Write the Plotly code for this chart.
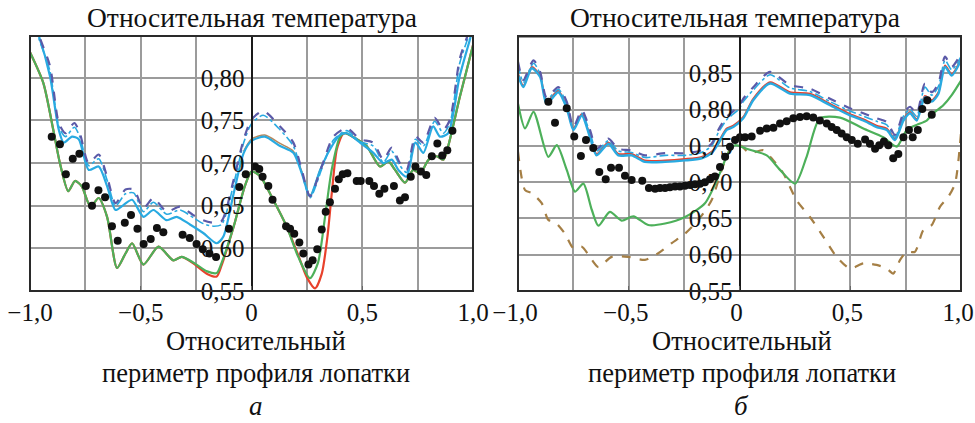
import plotly.graph_objects as go

W, H = 975, 423
FONT = "Liberation Serif"

# ---------------- Panel a data ----------------
a_green_x = [-1.0, -0.94, -0.895, -0.865, -0.827, -0.797, -0.767, -0.727, -0.69, -0.652, -0.607, -0.569, -0.539,
             -0.488, -0.42, -0.353, -0.315, -0.26, -0.2, -0.157, -0.135, -0.08, -0.03, 0.0, 0.038, 0.098, 0.158,
             0.211, 0.264, 0.30, 0.332, 0.362, 0.40, 0.422, 0.475, 0.52, 0.58, 0.618, 0.648, 0.693, 0.73, 0.761,
             0.80, 0.836, 0.866, 0.888, 0.941, 1.0]
a_green_y = [0.830, 0.794, 0.739, 0.700, 0.667, 0.679, 0.673, 0.649, 0.659, 0.637, 0.577, 0.594, 0.606,
             0.581, 0.602, 0.586, 0.590, 0.583, 0.573, 0.571, 0.583, 0.626, 0.673, 0.690, 0.685, 0.657, 0.626,
             0.590, 0.565, 0.583, 0.637, 0.692, 0.731, 0.735, 0.728, 0.720, 0.696, 0.702, 0.692, 0.677, 0.692, 0.688,
             0.704, 0.708, 0.704, 0.720, 0.778, 0.838]

a_red_x = [-1.0, -0.94, -0.895, -0.865, -0.827, -0.797, -0.767, -0.727, -0.69, -0.652, -0.607, -0.569, -0.539,
           -0.488, -0.42, -0.353, -0.315, -0.26, -0.2, -0.157, -0.135, -0.08, -0.03, 0.0, 0.038, 0.098, 0.158,
           0.211, 0.25, 0.287, 0.317, 0.343, 0.364, 0.385, 0.41, 0.422, 0.475, 0.52, 0.58, 0.618, 0.648, 0.693,
           0.73, 0.761, 0.80, 0.836, 0.866, 0.888, 0.941, 1.0]
a_red_y = [0.830, 0.794, 0.739, 0.700, 0.667, 0.679, 0.673, 0.649, 0.659, 0.637, 0.577, 0.594, 0.606,
           0.581, 0.602, 0.586, 0.590, 0.582, 0.570, 0.567, 0.580, 0.626, 0.673, 0.690, 0.685, 0.657, 0.626,
           0.592, 0.566, 0.553, 0.570, 0.614, 0.669, 0.716, 0.733, 0.735, 0.728, 0.720, 0.696, 0.702, 0.692,
           0.677, 0.692, 0.688, 0.704, 0.708, 0.704, 0.720, 0.778, 0.838]

a_cyan_x = [-1.0, -0.96, -0.91, -0.87, -0.848, -0.81, -0.78, -0.735, -0.69, -0.652, -0.614, -0.577, -0.539,
            -0.488, -0.443, -0.383, -0.338, -0.278, -0.218, -0.157, -0.127, -0.08, -0.035, 0.0, 0.06, 0.129,
            0.189, 0.227, 0.264, 0.31, 0.354, 0.40, 0.43, 0.49, 0.55, 0.595, 0.633, 0.663, 0.70, 0.74, 0.776,
            0.82, 0.851, 0.888, 0.94, 0.986, 1.0]
a_cyan_y = [0.875, 0.849, 0.802, 0.739, 0.724, 0.731, 0.728, 0.692, 0.696, 0.673, 0.645, 0.651, 0.657,
            0.637, 0.645, 0.633, 0.637, 0.628, 0.618, 0.606, 0.614, 0.665, 0.712, 0.726, 0.731, 0.720,
            0.712, 0.688, 0.661, 0.692, 0.716, 0.733, 0.735, 0.724, 0.712, 0.700, 0.704, 0.692, 0.684, 0.724, 0.712,
            0.743, 0.731, 0.735, 0.802, 0.845, 0.860]

a_brown_x = [-0.035, 0.0, 0.06, 0.129, 0.189, 0.227, 0.264, 0.31]
a_brown_y = [0.714, 0.728, 0.733, 0.723, 0.714, 0.690, 0.662, 0.693]

a_purple_x = [-1.0, -0.96, -0.91, -0.87, -0.84, -0.80, -0.775, -0.735, -0.69, -0.652, -0.614, -0.569, -0.532,
              -0.488, -0.443, -0.383, -0.323, -0.263, -0.218, -0.172, -0.135, -0.08, -0.035, 0.0, 0.053, 0.129,
              0.189, 0.227, 0.264, 0.317, 0.37, 0.43, 0.49, 0.55, 0.595, 0.633, 0.67, 0.70, 0.74, 0.776, 0.827,
              0.866, 0.896, 0.94, 0.98, 1.0]
a_purple_y = [0.885, 0.850, 0.814, 0.747, 0.735, 0.747, 0.735, 0.700, 0.710, 0.684, 0.653, 0.669, 0.669,
              0.647, 0.659, 0.643, 0.649, 0.639, 0.633, 0.630, 0.632, 0.681, 0.728, 0.751, 0.761, 0.743,
              0.724, 0.692, 0.661, 0.696, 0.731, 0.741, 0.728, 0.724, 0.704, 0.718, 0.700, 0.692, 0.731, 0.724, 0.753,
              0.739, 0.751, 0.822, 0.853, 0.870]

a_cdash_x = [-1.0, -0.96, -0.91, -0.87, -0.84, -0.80, -0.775, -0.735, -0.69, -0.652, -0.614, -0.569, -0.532,
             -0.488, -0.443, -0.383, -0.323, -0.263, -0.218, -0.172, -0.135, -0.08, -0.035, 0.0, 0.053, 0.129,
             0.189, 0.227, 0.264, 0.317, 0.37, 0.43, 0.49, 0.55, 0.595, 0.633, 0.67, 0.70, 0.74, 0.776, 0.827,
             0.866, 0.896, 0.94, 0.98, 1.0]
a_cdash_y = [0.880, 0.846, 0.808, 0.743, 0.731, 0.742, 0.731, 0.697, 0.705, 0.680, 0.650, 0.664, 0.665,
             0.643, 0.654, 0.640, 0.645, 0.636, 0.629, 0.626, 0.628, 0.676, 0.724, 0.746, 0.756, 0.739,
             0.720, 0.689, 0.659, 0.693, 0.727, 0.738, 0.725, 0.720, 0.701, 0.714, 0.697, 0.689, 0.728, 0.720, 0.749,
             0.735, 0.747, 0.817, 0.849, 0.866]

a_dots_x = [-0.902, -0.865, -0.838, -0.807, -0.777, -0.748, -0.720, -0.691, -0.661, -0.630, -0.604, -0.572,
            -0.544, -0.515, -0.487, -0.455, -0.427, -0.398, -0.311, -0.279, -0.248, -0.220, -0.190, -0.160,
            -0.102, -0.055, -0.026, 0.016, 0.035, 0.050, 0.076, 0.095, 0.156, 0.174, 0.193, 0.216, 0.234, 0.257,
            0.276, 0.297, 0.317, 0.335, 0.354, 0.377, 0.394, 0.412, 0.433, 0.475, 0.493, 0.532, 0.553, 0.577,
            0.600, 0.643, 0.670, 0.693, 0.719, 0.740, 0.765, 0.789, 0.814, 0.839, 0.861, 0.884, 0.907]
a_dots_y = [0.731, 0.722, 0.687, 0.705, 0.711, 0.673, 0.650, 0.668, 0.660, 0.626, 0.609, 0.630,
            0.639, 0.623, 0.605, 0.611, 0.624, 0.619, 0.616, 0.612, 0.605, 0.599, 0.594, 0.590,
            0.623, 0.672, 0.687, 0.696, 0.693, 0.684, 0.673, 0.657, 0.626, 0.623, 0.617, 0.607, 0.594, 0.581,
            0.586, 0.599, 0.622, 0.643, 0.654, 0.670, 0.681, 0.687, 0.688, 0.679, 0.679, 0.679, 0.673, 0.664,
            0.670, 0.673, 0.656, 0.660, 0.684, 0.696, 0.690, 0.686, 0.708, 0.723, 0.709, 0.715, 0.738]

# ---------------- Panel b data ----------------
b_green_x = [-1.0, -0.968, -0.93, -0.863, -0.825, -0.78, -0.743, -0.705, -0.667, -0.637, -0.585, -0.532, -0.479,
             -0.412, -0.336, -0.246, -0.156, -0.096, -0.051, -0.02, 0.017, 0.032, 0.123, 0.183, 0.251, 0.303,
             0.363, 0.454, 0.559, 0.649, 0.71, 0.755, 0.80, 0.845, 0.875, 0.92, 0.958, 1.0]
b_green_y = [0.808, 0.774, 0.797, 0.735, 0.751, 0.717, 0.687, 0.698, 0.662, 0.640, 0.659, 0.647, 0.653,
             0.641, 0.643, 0.652, 0.671, 0.707, 0.740, 0.751, 0.748, 0.746, 0.737, 0.717, 0.698, 0.735,
             0.788, 0.789, 0.774, 0.762, 0.749, 0.772, 0.779, 0.785, 0.795, 0.806, 0.820, 0.840]

b_brown_x = [-1.0, -0.968, -0.938, -0.893, -0.863, -0.833, -0.788, -0.75, -0.712, -0.667, -0.637, -0.577,
             -0.502, -0.427, -0.367, -0.306, -0.246, -0.186, -0.126, -0.08, -0.035, 0.002, 0.047, 0.107,
             0.153, 0.198, 0.258, 0.318, 0.378, 0.439, 0.499, 0.559, 0.619, 0.665, 0.694, 0.725, 0.755, 0.792,
             0.83, 0.868, 0.905, 0.943, 0.973, 1.0]
b_brown_y = [0.742, 0.689, 0.685, 0.671, 0.648, 0.645, 0.629, 0.609, 0.611, 0.593, 0.583, 0.597,
             0.597, 0.593, 0.602, 0.616, 0.629, 0.648, 0.675, 0.717, 0.749, 0.751, 0.740, 0.744,
             0.730, 0.712, 0.675, 0.652, 0.625, 0.597, 0.581, 0.588, 0.586, 0.581, 0.574, 0.593, 0.604, 0.604,
             0.634, 0.641, 0.666, 0.680, 0.698, 0.768]

b_cyan_x = [-1.0, -0.976, -0.938, -0.90, -0.871, -0.818, -0.78, -0.75, -0.712, -0.675, -0.645, -0.592, -0.547,
            -0.487, -0.427, -0.336, -0.246, -0.171, -0.126, -0.096, -0.058, -0.028, 0.017, 0.062, 0.138, 0.228,
            0.318, 0.409, 0.499, 0.559, 0.619, 0.665, 0.702, 0.74, 0.77, 0.80, 0.837, 0.868, 0.898, 0.928, 0.958,
            1.0]
b_cyan_y = [0.848, 0.831, 0.857, 0.845, 0.808, 0.824, 0.802, 0.772, 0.792, 0.762, 0.737, 0.753, 0.737,
            0.737, 0.728, 0.728, 0.730, 0.733, 0.740, 0.753, 0.772, 0.776, 0.788, 0.813, 0.836, 0.822,
            0.820, 0.806, 0.792, 0.785, 0.776, 0.772, 0.758, 0.785, 0.795, 0.785, 0.817, 0.811, 0.822, 0.859, 0.847,
            0.868]

b_red_x = [-1.0, -0.976, -0.938, -0.90, -0.871, -0.818, -0.78, -0.75, -0.712, -0.675, -0.645, -0.592, -0.547,
           -0.487, -0.427, -0.336, -0.246, -0.171, -0.126, -0.096, -0.058, -0.028, 0.017, 0.062, 0.138, 0.228,
           0.318, 0.409, 0.499, 0.559, 0.619, 0.665, 0.702, 0.74, 0.77, 0.80, 0.837, 0.868, 0.898, 0.928, 0.958,
           1.0]
b_red_y = [0.850, 0.833, 0.859, 0.847, 0.811, 0.826, 0.804, 0.774, 0.794, 0.764, 0.739, 0.755, 0.739,
           0.739, 0.730, 0.730, 0.732, 0.735, 0.742, 0.755, 0.774, 0.778, 0.790, 0.815, 0.838, 0.824,
           0.822, 0.808, 0.794, 0.787, 0.778, 0.774, 0.760, 0.787, 0.797, 0.787, 0.819, 0.813, 0.824, 0.861, 0.849,
           0.870]

b_purple_x = [-1.0, -0.976, -0.93, -0.90, -0.871, -0.818, -0.78, -0.75, -0.712, -0.675, -0.645, -0.592, -0.547,
              -0.487, -0.427, -0.336, -0.246, -0.171, -0.126, -0.096, -0.058, -0.005, 0.017, 0.062, 0.138, 0.228,
              0.318, 0.409, 0.499, 0.559, 0.619, 0.665, 0.702, 0.74, 0.77, 0.80, 0.837, 0.868, 0.898, 0.928, 0.958,
              1.0]
b_purple_y = [0.866, 0.841, 0.868, 0.852, 0.817, 0.831, 0.811, 0.776, 0.799, 0.772, 0.746, 0.760, 0.746,
              0.744, 0.737, 0.740, 0.740, 0.744, 0.753, 0.772, 0.790, 0.804, 0.815, 0.831, 0.852, 0.834,
              0.829, 0.815, 0.802, 0.795, 0.788, 0.783, 0.765, 0.795, 0.804, 0.795, 0.836, 0.824, 0.836, 0.873, 0.859,
              0.877]

b_cdash_x = b_purple_x
b_cdash_y = [0.862, 0.838, 0.864, 0.849, 0.814, 0.828, 0.808, 0.773, 0.795, 0.768, 0.743, 0.757, 0.743,
             0.741, 0.734, 0.737, 0.737, 0.741, 0.750, 0.768, 0.786, 0.800, 0.811, 0.827, 0.848, 0.830,
             0.825, 0.811, 0.798, 0.791, 0.784, 0.779, 0.762, 0.791, 0.800, 0.791, 0.831, 0.820, 0.832, 0.868, 0.855,
             0.873]

b_dots_x = [-0.863, -0.833, -0.780, -0.746, -0.716, -0.693, -0.660, -0.633, -0.604, -0.580, -0.544, -0.517,
            -0.487, -0.439, -0.409, -0.381, -0.359, -0.336, -0.314, -0.291, -0.269, -0.246, -0.223, -0.201,
            -0.178, -0.156, -0.133, -0.111, -0.088, -0.065, -0.043, -0.020, 0.002, 0.025, 0.055, 0.093, 0.123,
            0.153, 0.183, 0.213, 0.243, 0.273, 0.303, 0.333, 0.363, 0.394, 0.416, 0.439, 0.461, 0.484, 0.507,
            0.534, 0.567, 0.589, 0.612, 0.631, 0.652, 0.672, 0.694, 0.717, 0.740, 0.765, 0.782, 0.805, 0.825,
            0.848, 0.868]
b_dots_y = [0.811, 0.782, 0.802, 0.763, 0.736, 0.758, 0.747, 0.714, 0.704, 0.720, 0.720, 0.709,
            0.703, 0.702, 0.692, 0.691, 0.692, 0.692, 0.693, 0.694, 0.694, 0.695, 0.696, 0.697,
            0.698, 0.700, 0.704, 0.708, 0.721, 0.735, 0.749, 0.758, 0.762, 0.762, 0.763, 0.771, 0.774,
            0.775, 0.781, 0.784, 0.788, 0.790, 0.791, 0.789, 0.785, 0.781, 0.776, 0.772, 0.767, 0.762, 0.758,
            0.753, 0.759, 0.753, 0.746, 0.751, 0.756, 0.751, 0.733, 0.739, 0.762, 0.772, 0.762, 0.772, 0.801,
            0.813, 0.793]

# ---------------- axis labels ----------------
x_tickvals = [-1.0, -0.5, 0.0, 0.5, 1.0]
x_ticktext = ["\u22121,0", "\u22120,5", "0", "0,5", "1,0"]
x_minorvals = [-0.75, -0.25, 0.25, 0.75]
a_ytickvals = [0.55, 0.60, 0.65, 0.70, 0.75, 0.80]
a_yticktext = ["0,55", "0,60", "0,65", "0,70", "0,75", "0,80"]
b_ytickvals = [0.55, 0.60, 0.65, 0.70, 0.75, 0.80, 0.85, 0.90]
b_yticktext = ["0,55", "0,60", "0,65", "0,70", "0,75", "0,80", "0,85", ""]
panel_title = "Относительная температура"
xlabel_1 = "Относительный"
xlabel_2 = "периметр профиля лопатки"
panel_letters = ["а", "б"]

RED = "#e8412c"
GREEN = "#4db05a"
CYAN = "#29aae1"
PURPLE = "#5b5aa8"
BROWN = "#a57f45"
GRID = "#9b9b9b"

fig = go.Figure()


def line(x, y, color, width, dash, xa, ya, shape="spline"):
    fig.add_trace(go.Scatter(x=x, y=y, mode="lines", xaxis=xa, yaxis=ya,
                             line=dict(color=color, width=width, dash=dash, shape=shape, smoothing=0.7),
                             showlegend=False, hoverinfo="skip"))


def dots(x, y, xa, ya):
    fig.add_trace(go.Scatter(x=x, y=y, mode="markers", xaxis=xa, yaxis=ya,
                             marker=dict(color="#111111", size=8),
                             showlegend=False, hoverinfo="skip"))


# panel a
line(a_brown_x, a_brown_y, "#b8875a", 1.5, "solid", "x", "y")
line(a_red_x, a_red_y, RED, 2.2, "solid", "x", "y")
line(a_green_x, a_green_y, GREEN, 2.2, "solid", "x", "y")
line(a_cyan_x, a_cyan_y, CYAN, 2.2, "solid", "x", "y")
line(a_cdash_x, a_cdash_y, CYAN, 1.6, "dashdot", "x", "y")
line(a_purple_x, a_purple_y, PURPLE, 2.2, "dash", "x", "y")
dots(a_dots_x, a_dots_y, "x", "y")

# panel b
line(b_brown_x, b_brown_y, BROWN, 2.2, "dash", "x2", "y2")
line(b_green_x, b_green_y, GREEN, 2.2, "solid", "x2", "y2")
line(b_red_x, b_red_y, RED, 1.8, "solid", "x2", "y2")
line(b_cyan_x, b_cyan_y, CYAN, 2.4, "solid", "x2", "y2")
line(b_cdash_x, b_cdash_y, CYAN, 1.6, "dashdot", "x2", "y2")
line(b_purple_x, b_purple_y, PURPLE, 2.2, "dash", "x2", "y2")
dots(b_dots_x, b_dots_y, "x2", "y2")

ydom = [1 - 291 / H, 1 - 36 / H]
a_dom = [30 / W, 473 / W]
b_dom = [518 / W, 961 / W]
tickfont = dict(family=FONT, size=25, color="#111111")


def xaxis(dom, shift):
    return dict(domain=dom, range=[-1, 1], tickvals=x_tickvals, ticktext=x_ticktext,
                showgrid=True, gridcolor=GRID, gridwidth=1.5, zeroline=False,
                minor=dict(tickvals=x_minorvals, showgrid=True, gridcolor=GRID, gridwidth=1.5, ticks=""),
                ticks="inside", ticklen=5, tickwidth=1.2, tickcolor="#666666",
                tickfont=tickfont, ticklabelstandoff=4, ticklabelshift=shift, ticklabeloverflow="allow",
                showline=False, fixedrange=True, automargin=False)


def yaxis(rng, tv, tt, dom):
    pos = dom[0] + (dom[1] - dom[0]) * 0.5
    return dict(domain=ydom, range=rng, tickvals=tv, ticktext=tt, anchor="free", position=pos,
                showgrid=True, gridcolor=GRID, gridwidth=1.5, zeroline=False,
                showline=True, linecolor="#1a1a1a", linewidth=2, ticks="",
                tickfont=tickfont, ticklabelstandoff=1, ticklabeloverflow="allow",
                fixedrange=True, automargin=False)


fig.update_layout(
    width=W, height=H, margin=dict(l=0, r=0, t=0, b=0, autoexpand=False),
    paper_bgcolor="white", plot_bgcolor="white",
    xaxis=xaxis(a_dom, 0), xaxis2=xaxis(b_dom, -3),
    yaxis=yaxis([0.55, 0.849], a_ytickvals, a_yticktext, a_dom),
    yaxis2=yaxis([0.55, 0.9015], b_ytickvals, b_yticktext, b_dom),
)

for xr, yr in (("x", "y"), ("x2", "y2")):
    fig.add_shape(type="rect", xref=f"{xr} domain", yref=f"{yr} domain", x0=0, x1=1, y0=0, y1=1,
                  line=dict(color="#2a2a2a", width=2), layer="above")


def ann(text, px, py, size, italic=False, yanchor="middle"):
    fig.add_annotation(text=f"<i>{text}</i>" if italic else text, x=px / W, y=1 - py / H,
                       xref="paper", yref="paper", showarrow=False, xanchor="center", yanchor=yanchor,
                       borderpad=0, font=dict(family=FONT, size=size, color="#111111"))


for cx_title, cx_bottom, letter in ((252, 256, panel_letters[0]), (735, 741.5, panel_letters[1])):
    ann(panel_title, cx_title, 18, 27.5)
    ann(xlabel_1, cx_bottom, 341, 26.5)
    ann(xlabel_2, cx_bottom, 373, 26.5)
    ann(letter, cx_bottom, 422, 27, italic=True, yanchor="bottom")

fig.write_html("out.html")
